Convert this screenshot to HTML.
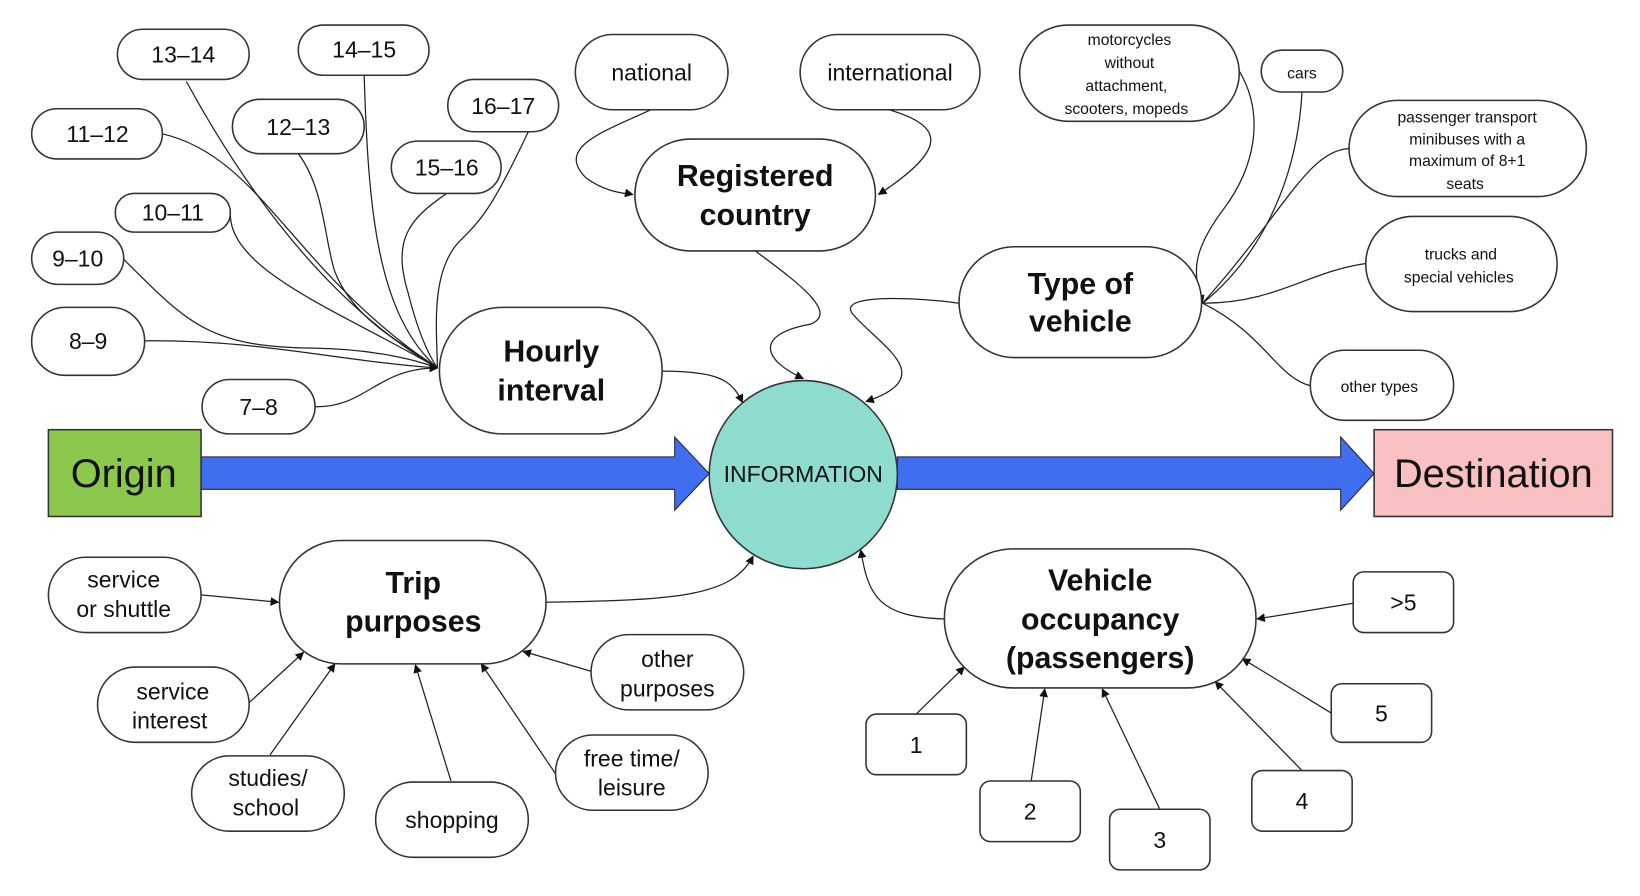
<!DOCTYPE html>
<html><head><meta charset="utf-8"><style>
html,body{margin:0;padding:0;background:#fff;}
svg{display:block;}
text{font-family:"Liberation Sans",sans-serif;fill:#111;text-anchor:middle;}
.n rect,.n circle{fill:#fff;stroke:#333;stroke-width:1.5;}
.c{fill:none;stroke:#222;stroke-width:1.2;}
.t{font-size:22px;}
.b{font-size:29px;font-weight:bold;}
.s{font-size:15px;}
</style></head><body>
<svg width="1640" height="896" viewBox="0 0 1568 857" xmlns="http://www.w3.org/2000/svg">
<defs><marker id="a" viewBox="0 0 10 10" refX="9" refY="5" markerWidth="7" markerHeight="7" orient="auto"><path d="M0,0 L10,5 L0,10z" fill="#111"/></marker></defs>
<!-- arrows -->
<polygon points="192,437 645,437 645,418 678,453 645,488 645,468 192,468" fill="#3f6ff0" stroke="#223" stroke-width="1"/>
<polygon points="858,437 1282,437 1282,418 1314,453 1282,488 1282,468 858,468" fill="#3f6ff0" stroke="#223" stroke-width="1"/>
<!-- hourly connectors -->
<g class="c">
<path d="M178,78 C250,210 330,300 418,352"/>
<path d="M348,72 C352,200 360,300 418,352"/>
<path d="M505,126 C470,200 460,210 440,230 C410,260 418,320 418,352"/>
<path d="M155,128 C250,150 280,260 418,352"/>
<path d="M285,147 C310,180 310,230 320,260 C340,310 390,330 418,352"/>
<path d="M427,185 C390,210 375,230 390,280 C400,320 410,340 418,352"/>
<path d="M220,205 C220,260 330,300 418,352"/>
<path d="M118,248 C180,310 200,332 300,333 C360,334 400,345 418,352"/>
<path d="M138,326 C250,325 320,345 418,352"/>
<path d="M301,389 C350,390 360,352 418,352" marker-end="url(#a)"/>
<path d="M633,355 C690,355 700,365 710,385" marker-end="url(#a)"/>
<path d="M622,105 C580,125 530,140 560,170 C580,185 600,185 605,186" marker-end="url(#a)"/>
<path d="M850,105 C900,120 910,140 840,186" marker-end="url(#a)"/>
<path d="M722,240 C770,275 800,300 775,310 C720,320 730,345 768,362" marker-end="url(#a)"/>
<path d="M917,290 C880,285 800,280 815,300 C840,330 900,360 828,384" marker-end="url(#a)"/>
<path d="M1185,68 C1210,110 1200,160 1170,200 C1140,240 1140,260 1150,290" marker-end="url(#a)"/>
<path d="M1245,88 C1240,180 1200,250 1150,290"/>
<path d="M1290,142 C1250,145 1230,200 1150,290"/>
<path d="M1306,252 C1250,260 1220,290 1150,290"/>
<path d="M1253,369 C1220,360 1210,320 1150,290"/>
<path d="M522,576 C650,574 700,570 720,532" marker-end="url(#a)"/>
<path d="M903,592 C840,590 830,570 823,526" marker-end="url(#a)"/>
<path d="M192,569 L266,576" marker-end="url(#a)"/>
<path d="M238,672 L290,624" marker-end="url(#a)"/>
<path d="M258,722 L320,635" marker-end="url(#a)"/>
<path d="M431,747 L397,636" marker-end="url(#a)"/>
<path d="M531,740 L460,635" marker-end="url(#a)"/>
<path d="M565,642 L500,623" marker-end="url(#a)"/>
<path d="M1294,577 L1202,592" marker-end="url(#a)"/>
<path d="M1273,682 L1188,630" marker-end="url(#a)"/>
<path d="M1245,737 L1162,652" marker-end="url(#a)"/>
<path d="M1109,774 L1054,659" marker-end="url(#a)"/>
<path d="M986,747 L999,659" marker-end="url(#a)"/>
<path d="M876,683 L922,638" marker-end="url(#a)"/>
</g>
<g class="n">
<rect x="112" y="28" width="126" height="48" rx="24"/><rect x="285" y="24" width="125" height="48" rx="24"/>
<rect x="428" y="76" width="106" height="50" rx="25"/><rect x="30" y="104" width="125" height="48" rx="24"/>
<rect x="222" y="95" width="126" height="52" rx="26"/><rect x="374" y="135" width="105" height="50" rx="25"/>
<rect x="110" y="185" width="110" height="37" rx="18"/><rect x="30" y="222" width="88" height="50" rx="25"/>
<rect x="30" y="294" width="108" height="65" rx="32"/><rect x="193" y="363" width="108" height="52" rx="26"/>
<rect x="420" y="294" width="213" height="121" rx="60"/>
<rect x="550" y="33" width="146" height="72" rx="36"/><rect x="765" y="33" width="172" height="72" rx="36"/>
<rect x="607" y="133" width="230" height="107" rx="53"/>
<rect x="975" y="24" width="210" height="92" rx="46"/><rect x="1206" y="48" width="78" height="40" rx="20"/>
<rect x="1290" y="96" width="227" height="92" rx="46"/><rect x="917" y="236" width="232" height="106" rx="53"/>
<rect x="1306" y="207" width="183" height="91" rx="45"/><rect x="1253" y="335" width="137" height="67" rx="33"/>
<rect x="267" y="517" width="255" height="118" rx="59"/>
<rect x="46" y="533" width="146" height="72" rx="36"/><rect x="93" y="638" width="145" height="72" rx="36"/>
<rect x="183" y="723" width="146" height="72" rx="36"/><rect x="359" y="748" width="146" height="72" rx="36"/>
<rect x="531" y="703" width="146" height="72" rx="36"/><rect x="565" y="607" width="146" height="72" rx="36"/>
<rect x="903" y="525" width="298" height="133" rx="66"/>
<rect x="1294" y="547" width="96" height="58" rx="10"/><rect x="1273" y="654" width="96" height="56" rx="10"/>
<rect x="1197" y="737" width="96" height="58" rx="10"/><rect x="1061" y="774" width="96" height="58" rx="10"/>
<rect x="937" y="747" width="96" height="58" rx="10"/><rect x="828" y="683" width="96" height="58" rx="10"/>
</g>
<circle cx="768" cy="454" r="90" fill="#8ddccf" stroke="#333" stroke-width="1.5"/>
<rect x="46" y="411" width="146" height="83" fill="#8cc84b" stroke="#333" stroke-width="1.5"/>
<rect x="1314" y="411" width="228" height="83" fill="#f8c0c0" stroke="#333" stroke-width="1.5"/>
<g class="t">
<text x="175" y="60">13–14</text><text x="348" y="55">14–15</text><text x="481" y="109">16–17</text>
<text x="93" y="136">11–12</text><text x="285" y="129">12–13</text><text x="427" y="168">15–16</text>
<text x="165" y="211">10–11</text><text x="74" y="255">9–10</text><text x="84" y="334">8–9</text><text x="247" y="397">7–8</text>
<text x="623" y="77">national</text><text x="851" y="77">international</text>
<text x="118" y="562">service</text><text x="118" y="590">or shuttle</text>
<text x="165" y="669">service</text><text x="162" y="697">interest</text>
<text x="256" y="752">studies/</text><text x="254" y="780">school</text>
<text x="432" y="792">shopping</text>
<text x="604" y="733">free time/</text><text x="604" y="761">leisure</text>
<text x="638" y="638">other</text><text x="638" y="666">purposes</text>
<text x="1342" y="584">&gt;5</text><text x="1321" y="690">5</text><text x="1245" y="774">4</text>
<text x="1109" y="811">3</text><text x="985" y="784">2</text><text x="876" y="720">1</text>
<text x="768" y="461">INFORMATION</text>
</g>
<g class="b">
<text x="527" y="346">Hourly</text><text x="527" y="383">interval</text>
<text x="722" y="178">Registered</text><text x="722" y="215">country</text>
<text x="1033" y="281">Type of</text><text x="1033" y="317">vehicle</text>
<text x="395" y="567">Trip</text><text x="395" y="604">purposes</text>
<text x="1052" y="565">Vehicle</text><text x="1052" y="602">occupancy</text><text x="1052" y="639">(passengers)</text>
</g>
<g class="s">
<text x="1080" y="43">motorcycles</text><text x="1080" y="65">without</text><text x="1077" y="87">attachment,</text><text x="1077" y="109">scooters, mopeds</text>
<text x="1245" y="75">cars</text>
<text x="1403" y="117">passenger transport</text><text x="1403" y="138">minibuses with a</text><text x="1403" y="159">maximum of 8+1</text><text x="1401" y="181">seats</text>
<text x="1397" y="248">trucks and</text><text x="1395" y="270">special vehicles</text>
<text x="1319" y="375">other types</text>
</g>
<text x="118" y="466" style="font-size:38px">Origin</text>
<text x="1428" y="466" style="font-size:38px">Destination</text>
</svg>
</body></html>
